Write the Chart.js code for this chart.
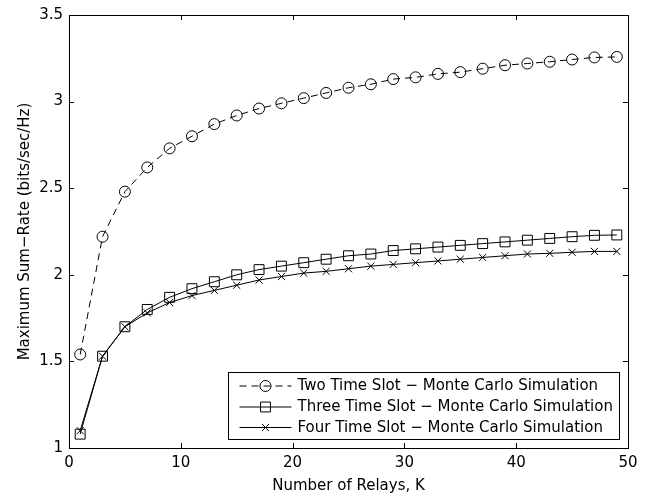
<!DOCTYPE html>
<html>
<head>
<meta charset="utf-8">
<script src="https://cdn.jsdelivr.net/npm/chart.js@4.4.0/dist/chart.umd.min.js"></script>
<style>
  html, body { margin: 0; padding: 0; background: #fff; }
  canvas { display: block; }
</style>
</head>
<body>
<canvas id="grafico" width="663" height="498"></canvas>
<script>
// datos
const relays = [1, 3, 5, 7, 9, 11, 13, 15, 17, 19, 21, 23, 25, 27, 29, 31, 33, 35, 37, 39, 41, 43, 45, 47, 49];
const twoSlot = [1.54, 2.22, 2.48, 2.62, 2.73, 2.80, 2.87, 2.92, 2.96, 2.99, 3.02, 3.05, 3.08, 3.10, 3.13, 3.14, 3.16, 3.17, 3.19, 3.21, 3.22, 3.23, 3.243, 3.255, 3.258];
const threeSlot = [1.08, 1.53, 1.70, 1.80, 1.87, 1.92, 1.96, 2.00, 2.03, 2.05, 2.07, 2.09, 2.11, 2.12, 2.14, 2.15, 2.16, 2.17, 2.18, 2.19, 2.20, 2.21, 2.22, 2.228, 2.23];
const fourSlot = [1.10, 1.53, 1.70, 1.78, 1.84, 1.88, 1.91, 1.94, 1.97, 1.99, 2.01, 2.02, 2.035, 2.05, 2.06, 2.07, 2.08, 2.09, 2.10, 2.11, 2.12, 2.124, 2.13, 2.135, 2.135];
const seriesLabels = [
  "Two Time Slot \u2212 Monte Carlo Simulation",
  "Three Time Slot \u2212 Monte Carlo Simulation",
  "Four Time Slot \u2212 Monte Carlo Simulation"
];
const xTicks = [0, 10, 20, 30, 40, 50];
const yTicks = [1, 1.5, 2, 2.5, 3, 3.5];
const xTitle = "Number of Relays, K";
const yTitle = "Maximum Sum\u2212Rate (bits/sec/Hz)";

const fuente = "'DejaVu Sans', 'Liberation Sans', Arial, sans-serif";

function puntos(vals) {
  return relays.map((k, i) => ({ x: k, y: vals[i] }));
}

// marcador para la leyenda (mismo estilo que los puntos)
function dibujarMarcador(ctx, estilo, x, y, r) {
  ctx.beginPath();
  if (estilo === "circle") {
    ctx.arc(x, y, r, 0, Math.PI * 2);
  } else if (estilo === "rect") {
    const s = Math.SQRT1_2 * r;
    ctx.rect(x - s, y - s, 2 * s, 2 * s);
  } else if (estilo === "crossRot") {
    const d = Math.cos(Math.PI / 4) * r;
    ctx.moveTo(x - d, y - d); ctx.lineTo(x + d, y + d);
    ctx.moveTo(x + d, y - d); ctx.lineTo(x - d, y + d);
  }
  ctx.stroke();
}

// caja de ejes con marcas hacia adentro (estilo matlab)
const cajaEjes = {
  id: "cajaEjes",
  afterDatasetsDraw(chart) {
    const { ctx, chartArea: a, scales } = chart;
    const largo = 5;
    ctx.save();
    ctx.strokeStyle = "#000";
    ctx.lineWidth = 1;
    ctx.beginPath();
    scales.x.ticks.forEach(t => {
      const px = Math.round(scales.x.getPixelForValue(t.value)) + 0.5;
      ctx.moveTo(px, a.bottom); ctx.lineTo(px, a.bottom - largo);
      ctx.moveTo(px, a.top); ctx.lineTo(px, a.top + largo);
    });
    scales.y.ticks.forEach(t => {
      const py = Math.round(scales.y.getPixelForValue(t.value)) + 0.5;
      ctx.moveTo(a.left, py); ctx.lineTo(a.left + largo, py);
      ctx.moveTo(a.right, py); ctx.lineTo(a.right - largo, py);
    });
    ctx.stroke();
    ctx.strokeRect(Math.round(a.left) + 0.5, Math.round(a.top) + 0.5,
      Math.round(a.right - a.left), Math.round(a.bottom - a.top));
    ctx.restore();
  }
};

// leyenda dentro del area, abajo a la derecha
const leyenda = {
  id: "leyenda",
  afterDraw(chart) {
    const { ctx, chartArea: a } = chart;
    const ancho = 391, alto = 67;
    const x0 = Math.round(a.right - 9 - ancho) + 0.5;
    const y0 = Math.round(a.bottom - 9 - alto) + 0.5;
    ctx.save();
    ctx.fillStyle = "#fff";
    ctx.fillRect(x0, y0, ancho, alto);
    ctx.strokeStyle = "#000";
    ctx.lineWidth = 1;
    ctx.strokeRect(x0, y0, ancho, alto);
    const filas = [13.5, 34.5, 55];
    chart.data.datasets.forEach((ds, i) => {
      const y = y0 + filas[i];
      ctx.strokeStyle = "#000";
      ctx.lineWidth = 1;
      ctx.setLineDash(ds.borderDash || []);
      ctx.beginPath();
      ctx.moveTo(x0 + 11, y); ctx.lineTo(x0 + 63, y);
      ctx.stroke();
      ctx.setLineDash([]);
      dibujarMarcador(ctx, ds.pointStyle, x0 + 37, y, ds.pointRadius);
      ctx.fillStyle = "#000";
      ctx.font = "15px " + fuente;
      ctx.textBaseline = "middle";
      ctx.textAlign = "left";
      ctx.fillText(ds.label, x0 + 69, y + 0.5);
    });
    ctx.restore();
  }
};

const config = {
  type: "line",
  data: {
    datasets: [
      {
        label: seriesLabels[0],
        data: puntos(twoSlot),
        borderColor: "#000",
        borderWidth: 1,
        borderDash: [7, 5],
        pointStyle: "circle",
        pointRadius: 5.5,
        pointBorderWidth: 1,
        pointBorderColor: "#000",
        pointBackgroundColor: "rgba(0,0,0,0)",
        tension: 0
      },
      {
        label: seriesLabels[1],
        data: puntos(threeSlot),
        borderColor: "#000",
        borderWidth: 1,
        pointStyle: "rect",
        pointRadius: 7,
        pointBorderWidth: 1,
        pointBorderColor: "#000",
        pointBackgroundColor: "rgba(0,0,0,0)",
        tension: 0
      },
      {
        label: seriesLabels[2],
        data: puntos(fourSlot),
        borderColor: "#000",
        borderWidth: 1,
        pointStyle: "crossRot",
        pointRadius: 5,
        pointBorderWidth: 1,
        pointBorderColor: "#000",
        pointBackgroundColor: "rgba(0,0,0,0)",
        tension: 0
      }
    ]
  },
  options: {
    responsive: false,
    animation: false,
    devicePixelRatio: 1,
    layout: { padding: { top: 7, right: 35, left: 0, bottom: 0 } },
    plugins: {
      legend: { display: false },
      tooltip: { enabled: false }
    },
    scales: {
      x: {
        type: "linear",
        min: 0,
        max: 50,
        afterBuildTicks: s => { s.ticks = xTicks.map(v => ({ value: v })); },
        afterFit: s => { s.height = 50; },
        grid: { display: false, drawTicks: false },
        border: { display: false },
        ticks: {
          color: "#000", padding: 6, font: { family: fuente, size: 15 },
          callback: v => String(v)
        },
        title: {
          display: true,
          text: xTitle,
          color: "#000",
          font: { family: fuente, size: 15 },
          padding: { top: 0, bottom: 3 }
        }
      },
      y: {
        type: "linear",
        min: 1,
        max: 3.5,
        afterBuildTicks: s => { s.ticks = yTicks.map(v => ({ value: v })); },
        afterFit: s => { s.width = 69; },
        grid: { display: false, drawTicks: false },
        border: { display: false },
        ticks: {
          color: "#000", padding: 6, font: { family: fuente, size: 15 },
          callback: v => String(v)
        },
        title: {
          display: true,
          text: yTitle,
          color: "#000",
          font: { family: fuente, size: 15 },
          padding: { top: 16, bottom: 0 }
        }
      }
    }
  },
  plugins: [cajaEjes, leyenda]
};

new Chart(document.getElementById("grafico"), config);
</script>
</body>
</html>
